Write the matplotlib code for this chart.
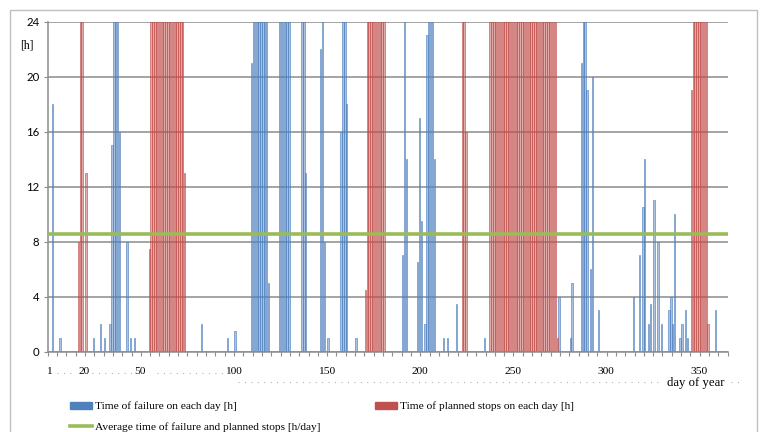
import numpy as np
import matplotlib
matplotlib.use('Agg')
import matplotlib.pyplot as plt
from matplotlib.lines import Line2D
from matplotlib.patches import Patch, Rectangle

# failure time on each day [h] (blue bars)
failure_days = [3, 7, 25, 29, 31, 34, 35, 36, 37, 38, 39, 43, 45, 47, 83, 97, 101,
                110, 111, 112, 113, 114, 115, 116, 117, 118, 119,
                125, 126, 127, 128, 129, 130, 137, 138, 139, 147, 148, 149, 151,
                158, 159, 160, 161, 166, 191, 192, 193, 199, 200, 201, 203, 204, 205, 206, 207, 208,
                213, 215, 220, 235, 275, 281, 282, 287, 288, 289, 290, 292, 293, 296,
                315, 318, 320, 321, 323, 324, 326, 328, 330, 334, 335, 336, 337, 340, 341, 343, 344, 359]
failure_hours = [18, 1, 1, 2, 1, 2, 15, 24, 24, 24, 16, 8, 1, 1, 2, 1, 1.5,
                 21, 24, 24, 24, 24, 24, 24, 24, 24, 5,
                 24, 24, 24, 24, 24, 24, 24, 24, 13, 22, 24, 8, 1,
                 16, 24, 24, 18, 1, 7, 24, 14, 6.5, 17, 9.5, 2, 23, 24, 24, 24, 14,
                 1, 1, 3.5, 1, 4, 1, 5, 21, 24, 24, 19, 6, 20, 3,
                 4, 7, 10.5, 14, 2, 3.5, 11, 8, 2, 3, 4, 2, 10, 1, 2, 3, 1, 3]

# planned stops on each day [h] (red bars)
planned_days = [17, 18, 19, 21,
                55, 56, 57, 58, 59, 60, 61, 62, 63, 64, 65, 66, 67, 68, 69, 70, 71, 72, 73, 74,
                171, 172, 173, 174, 175, 176, 177, 178, 179, 180, 181,
                223, 224, 225,
                238, 239, 240, 241, 242, 243, 244, 245, 246, 247, 248, 249, 250, 251, 252, 253, 254, 255,
                256, 257, 258, 259, 260, 261, 262, 263, 264, 265, 266, 267, 268, 269, 270, 271, 272, 273, 274,
                346, 347, 348, 349, 350, 351, 352, 353, 354, 355]
planned_hours = [8, 24, 24, 13,
                 7.5, 24, 24, 24, 24, 24, 24, 24, 24, 24, 24, 24, 24, 24, 24, 24, 24, 24, 24, 13,
                 4.5, 24, 24, 24, 24, 24, 24, 24, 24, 24, 24,
                 24, 24, 16,
                 24, 24, 24, 24, 24, 24, 24, 24, 24, 24, 24, 24, 24, 24, 24, 24, 24, 24,
                 24, 24, 24, 24, 24, 24, 24, 24, 24, 24, 24, 24, 24, 24, 24, 24, 24, 24, 1,
                 19, 24, 24, 24, 24, 24, 24, 24, 24, 2]

avg_hours = 8.55  # average time of failure and planned stops [h/day]
tick_days = [1, 20, 50, 100, 150, 200, 250, 300, 350]

assert len(failure_days) == len(failure_hours)
assert len(planned_days) == len(planned_hours)

blue = '#4F81BD'
red = '#C0504D'
green = '#9BBB59'
grid_c = '#8C8C8C'
W, H = 760, 432

fig = plt.figure(figsize=(W / 100, H / 100), dpi=100)
ax = fig.add_axes([47.7 / W, 80.3 / H, 680 / W, 330 / H])

ax.bar(failure_days, failure_hours, width=0.75, color=(0.31, 0.506, 0.741, 0.48),
       edgecolor=(0.31, 0.506, 0.741, 0.85), linewidth=0.5, zorder=2)
ax.bar(planned_days, planned_hours, width=0.75, color=(0.753, 0.314, 0.302, 0.48),
       edgecolor=(0.753, 0.314, 0.302, 0.85), linewidth=0.5, zorder=2)
ax.axhline(avg_hours, color=green, lw=2.6, zorder=3)

ax.set_xlim(0.5, 365.5)
ax.set_ylim(0, 24)
ax.set_yticks(range(0, 25, 4))
ax.yaxis.grid(True, color=grid_c, lw=1.1)
ax.set_axisbelow(True)

serif = 'Liberation Serif'
ax.set_xticks(tick_days)
ax.set_xticklabels([str(d) for d in tick_days], fontfamily=serif, fontsize=8.2)
ax.tick_params(axis='x', which='major', length=0, pad=11)
ax.set_xticks(np.arange(0.5, 366, 5), minor=True)
ax.tick_params(axis='x', which='minor', length=3, width=0.8, color=grid_c, direction='out')
ax.tick_params(axis='y', length=3, width=0.8, color=grid_c, labelsize=8.2, pad=3)
for lab in ax.get_yticklabels():
    lab.set_fontfamily('Lato')

for s in ['top', 'right']:
    ax.spines[s].set_visible(False)
for s in ['left', 'bottom']:
    ax.spines[s].set_color(grid_c)
    ax.spines[s].set_linewidth(1.1)

fig.text(20 / W, 1 - 45 / H, '[h]', family=serif, fontsize=8.5, va='center')

# dotted leaders under the axis labels
dots = dict(transform=fig.transFigure, color='#A0A0A0', lw=0.8, linestyle=(0, (0.8, 5)))
for x0, x1, y in [(57, 72, 373), (92, 140, 373), (157, 232, 373), (238, 663, 382), (731, 740, 382)]:
    fig.add_artist(Line2D([x0 / W, x1 / W], [1 - y / H, 1 - y / H], **dots))
fig.text(696 / W, 1 - 383 / H, 'day of year', family=serif, fontsize=9.2, ha='center', va='center')

handles = [Patch(color=blue), Line2D([], [], color=green, lw=2.6), Patch(color=red)]
labels = ['Time of failure on each day [h]',
          'Average time of failure and planned stops [h/day]',
          'Time of planned stops on each day [h]']
fig.legend(handles, labels, ncol=2, loc='upper left', bbox_to_anchor=(70 / W, 1 - 401.5 / H),
           frameon=False, prop={'family': serif, 'size': 8.2}, handlelength=1.9,
           handleheight=0.55, handletextpad=0.3, columnspacing=4.8, labelspacing=0.95,
           borderpad=0, borderaxespad=0)

# outer chart border
fig.add_artist(Rectangle((10 / W, -0.05), 747 / W, 1 - 10 / H + 0.05, transform=fig.transFigure,
                         fill=False, edgecolor='#BFBFBF', lw=1))

fig.savefig('out.png', dpi=100)
